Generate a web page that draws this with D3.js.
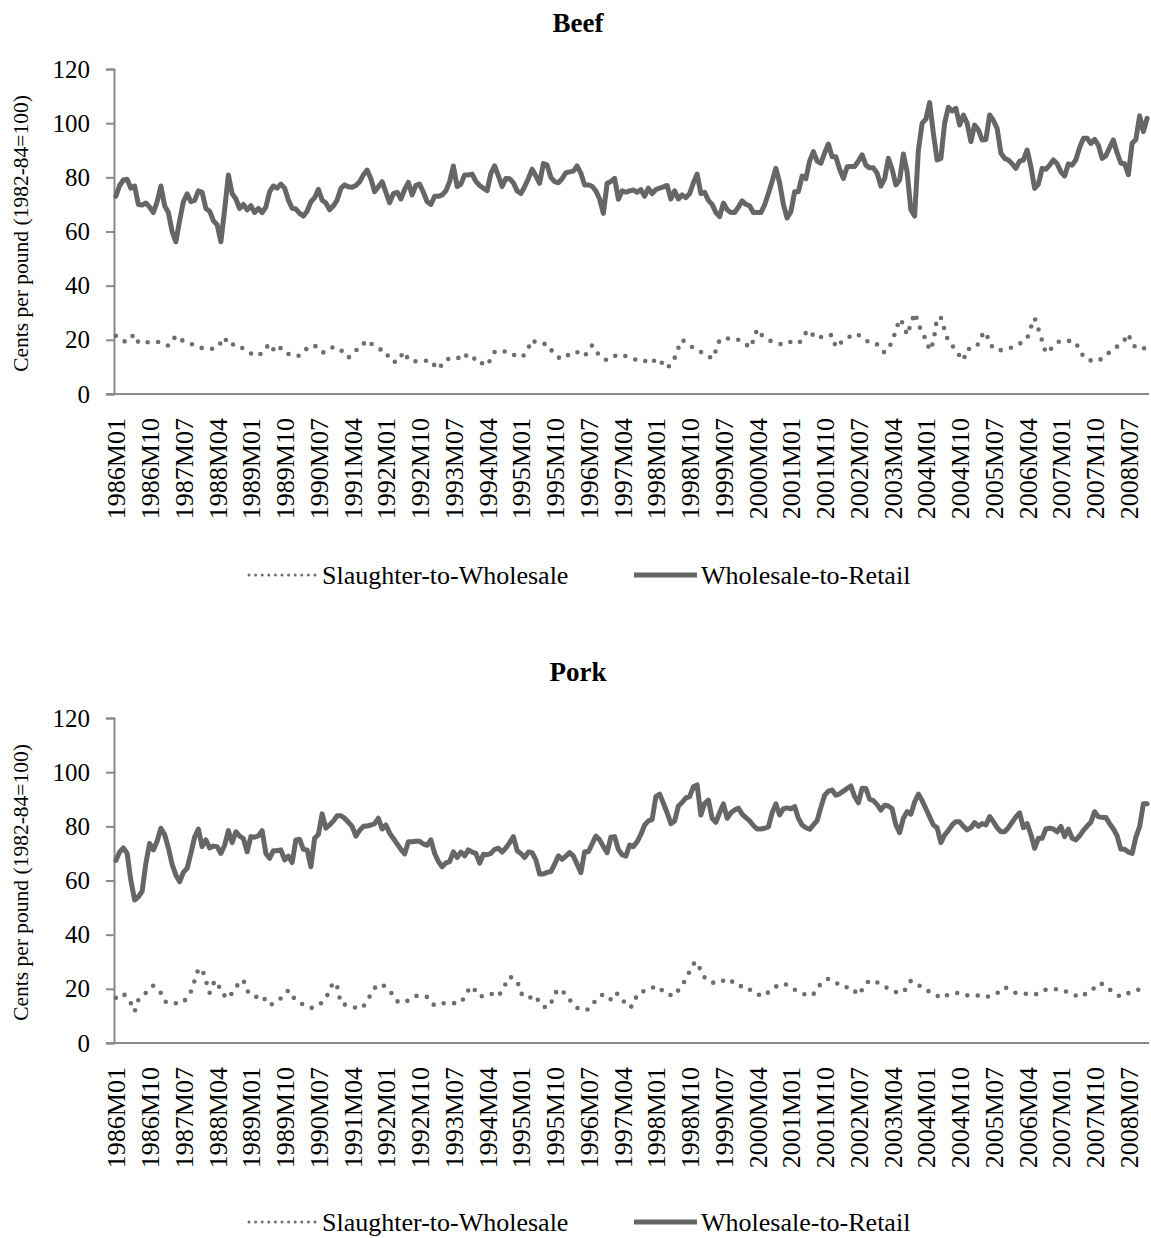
<!DOCTYPE html>
<html>
<head>
<meta charset="utf-8">
<script src="https://cdn.jsdelivr.net/npm/d3@7/dist/d3.min.js"></script>
<style>
  html, body { margin: 0; padding: 0; background: #fff; }
  svg { display: block; }
  text { font-family: "Liberation Serif", "Times New Roman", serif; fill: #000; }
</style>
</head>
<body>
<svg id="chart" width="1151" height="1238"></svg>
<script>
// ---------------- DATA ----------------
const years = d3.range(1986, 2009);
const monthCodes = ["01","02","03","04","05","06","07","08","09","10","11","12"];
const categories = years.flatMap(y => monthCodes.map(m => y + "M" + m));
const tickLabels = categories.filter((c, i) => i % 9 === 0);
const yTicks = [0, 20, 40, 60, 80, 100, 120];
const seriesNames = ["Slaughter-to-Wholesale", "Wholesale-to-Retail"];
const panelTitles = ["Beef", "Pork"];
const yTitle = "Cents per pound (1982-84=100)";

const beefS2W = [
  21.5,20.5,19.5,19.3,21,22,19,18.7,19,19.2,19.2,19.2,
  19.1,18.5,17.8,19.5,21.5,20.5,19.5,19,18.5,18,17.2,17,
  16.7,16.6,16.8,17,19,20.9,18,18.2,18.5,17.5,16.8,16.2,
  15,14,14.5,15,17,18.6,16.5,15.3,17.1,16,14.8,14.1,
  14.1,14.1,15.5,16.9,17.5,18,16.5,15.3,15.5,16.5,17.4,16.8,
  16.3,14.5,13.4,14.8,16.2,16.5,18.5,19.9,18.7,17.6,16.8,16.2,
  15.9,12.5,12,11.8,14,15.6,12.5,12.2,12.1,12.1,12.2,12.3,
  12.4,10.5,9.1,11,12.8,13,13.2,13,14,15,13,12.5,
  13.5,12,11,10.5,13,15.5,16,16,15.5,15.5,14.5,14,
  13.5,14.5,17,20,19,18.5,18.5,18.5,16.5,14.5,13.5,13,
  13.5,15,15.5,15.5,14.5,14,16,18,16,14,13,12.5,
  13,14,14.5,14,14,13.5,13,12.5,12,12,13,12,
  12.5,13,10.5,9.5,11,13.3,17,20,19,18,17,16,
  15.5,15,14,13,16,20,20.5,20.5,20.5,20.5,20,19.5,
  18.5,17,19.7,23.9,22,21,20,19.3,19,18.5,18.2,18.5,
  19.3,19,18.7,20,22.6,23.6,21.5,20.4,21,21.9,21.8,21.7,
  17.2,18.5,19.8,20.5,21.5,22.3,21.8,21,20,18.7,18.5,18.3,
  16.5,15.3,17,19.2,23.5,27.7,25.8,21.8,25.8,29.9,26.3,22.2,
  20.4,16.1,19.1,28.2,28.2,23.6,19.3,18,16,14.1,12.4,16.7,
  16.5,17,18.5,21.7,23,18.6,17,16,16.2,16.5,16.9,17.2,
  17.6,18.5,19.5,20.5,24.6,28,24,19.7,15.1,16.2,17.5,19,
  19.6,19.6,19.6,19.6,19,16,14,12.6,12.4,12.2,12.2,13.2,
  14.1,15.5,16.8,17.5,18.5,20,22.2,18.3,17.3,16.5,16.8,17.2
];
const beefW2R = [
  73,77,79,79.3,76,76.8,70,69.8,70.5,69,67,71,
  76.8,69.5,67,60,56.2,64,71,73.9,71,71.5,75,74.5,
  68.5,67.5,64,62.5,56.2,68,80.9,74,72,68.5,70,68,
  69.5,67,68.5,67,69,74.7,76.8,76,77.5,76,71.6,68.6,
  68.3,66.7,65.7,67.5,71,72.5,75.6,71.6,70.5,68,69.5,71.6,
  75.9,77.2,76.5,76.3,77,78.4,80.9,82.7,79.5,74.7,76.5,78.4,
  74.5,70.6,74,74.5,72,75.5,78.1,73.5,77,77.5,74.5,71,
  70,73,73,73.5,75,78.4,84.2,76.6,77.5,80.9,80.9,81.2,
  78.5,77,76,75.1,81.5,84.2,80.5,76.6,79.6,79.5,78,75,
  74,76.5,79.6,83,80.5,77.8,85.1,84.5,80,78.4,78,79.5,
  81.7,82,82.3,84.2,81.5,77.2,77.2,76.7,75,72,66.7,77.8,
  78.5,79.6,71.9,75,74.5,75,75.3,74.5,75.5,73,76,74,
  75.5,76,76.5,77,72,75,72,73.5,72.5,74,78,81.2,
  74,74.5,71.5,70,67,65.5,70.5,68,67,67,69,71.3,
  70,69.5,67,67,67,69.8,74,78.5,83.3,78,70,65,
  67.3,74.7,74.7,80.5,79.5,86,89.5,86,85.2,89,92.3,87.6,
  87.6,83,79.6,83.9,84,84,86,88.3,84.5,83.5,83.5,81.5,
  76.8,79.5,87,83,77.2,79,88.6,82,68,65.7,90,100,
  101.5,107.6,96.2,86.4,87,100,105.9,104.5,105.5,99.3,103,100,
  93.2,99.3,97.5,93.8,94,103,101,98.1,89,87,86.4,85,
  83.3,86,86.4,90.1,84,75.9,77.5,83.3,83,84.5,86.4,85,
  82,80.5,85,84.5,86.5,91,94.4,94.4,92.5,94,91.9,87,
  88,91,93.8,89,85.2,85,81,92.6,94,102.7,96.9,101.8
];
const porkS2W = [
  16.7,17.5,18.3,16.5,14.7,11.6,15.9,17.5,18.5,20,21.2,20,
  18.5,15.5,14.7,14.7,14.7,14.8,14.9,17,19,23,27.3,27.3,
  23,18.5,22,23,18.8,17.5,16.4,18.5,20.5,22.5,23.3,19.3,
  18,16.9,17.2,17.6,15.5,13.9,14.6,15.4,16.5,17.6,19.5,17.5,
  15.7,15,14.1,13.5,12.9,13.3,14.2,14.9,16.5,19.5,22.5,21,
  14.5,14.2,13.9,13.5,13,12.6,13.5,15.5,18,20.3,21.5,21.7,
  20.5,19.3,17.5,15.4,15.1,14.9,15.8,16.8,17.4,17.4,17.4,17,
  15,13.9,14.2,14.7,14.7,14.7,14.7,14.8,14.9,17,19.5,21,
  19,17.1,17.4,17.9,18.3,17.5,17.2,19.5,22,24.5,23.8,23,
  18.5,16.8,16.6,17,17.5,14.5,13.5,12.9,14.5,18,20,19,
  18.1,16,14.2,13,12.2,12.3,12.4,14,15.9,17,18.1,17,
  16.1,18.5,18,16,14.5,13,14,18,18.8,19.2,19.5,20.3,
  21,20.5,18.8,17.9,17.7,17.4,19.5,21.5,23.5,26.5,29.2,30,
  26.5,24.2,22.8,22.4,22,22.4,23,23.7,23.3,21.5,21,21,
  21,19.8,18.6,18,17.6,17.3,18.8,19.8,20.8,21.8,21.8,21.5,
  20.6,19.7,18.9,18.3,17.8,17.3,18,20.3,21.8,23.2,23.7,23.1,
  22.4,21.2,20.6,20.6,20.6,19.2,17.7,19.7,22,23,23.2,22.4,
  21.6,20.9,20,19.4,18.8,18.3,18.9,20.5,23,22.2,21.4,20.6,
  19.5,19,18.3,17.5,16.6,17.2,17.9,18.3,18.4,18.5,18,17.6,
  17.6,17.7,17.5,17.2,16.9,17.4,17.9,18.4,19.5,20.6,20,19,
  18.5,18.5,18.4,18.1,17.9,18,18.1,18.8,19.7,20,19.9,19.8,
  19.8,19.2,18.6,18.1,17.5,16.9,17.7,18.5,19,20.5,22,21.8,
  21.2,19.8,18.6,17.8,17.1,17.8,18.4,18.8,19.3,19.9,20.6,21.2
];
const porkW2R = [
  67.4,70.5,72,70,60,52.8,54,56,66.4,73.7,71.3,74.5,
  79.3,77,72,66,62,59.5,63,64.5,70,76,79,72.5,
  75,72,72.7,72.5,70,73,78.4,74,78,76.4,75.5,70.6,
  76.2,76,76.5,78.4,70,68.2,71,71,71.3,67.6,69,66.6,
  75,75.2,71.5,71.3,65.1,75.6,77,84.6,79.3,80.5,82,83.9,
  83.9,83,81.5,80,76.4,78.5,80,80.1,80.5,81,83,79,
  80.5,77.5,75.5,73.5,71.5,69.8,74.3,74.3,74.5,74.5,73.5,73,
  75,70,67,65.1,66.5,67,70.6,68.5,70.5,69.1,71.3,70.5,
  70,66.4,69.7,69.5,70,71.5,71.9,70.5,72,74,76.2,71,
  70,68.5,70.5,70.3,67.6,62.4,62.4,63,63.3,66,69.1,67.8,
  69,70.3,69,66,62.9,70.6,70.6,73.5,76.4,75,72.5,70.3,
  76,76.2,71.5,69.5,69,73.1,72.5,74.3,77,80.5,82,82.5,
  91,91.9,88.5,85,81,82,87.5,88.8,90.5,91,94.6,95.3,
  84.2,88.5,89.7,83,81.5,85,88.3,83,85,86,86.7,84.5,
  83.2,82,80.3,79,79,79.3,79.8,85,88.3,84.2,86.5,86.8,
  86.5,87.3,83,80.5,79.5,78.9,80.5,82.1,87,91.5,93,93.4,
  91.5,92,93,94,94.9,91,88.7,94.1,94,90,89.5,88,
  86,87.8,87.5,86.5,80.5,77.7,83,85.4,84.5,89,91.9,89.5,
  86.5,83.5,80.5,79.5,74,76.8,78.5,80.5,81.7,81.7,80,78.7,
  79.5,81.4,80,81,80.5,83.6,81.7,79.5,78,78,79.5,81.5,
  83.5,85,79.5,81,77,71.9,75.6,75.6,79,79.3,79,78,
  80,76.2,79,75.6,75,76.5,78.5,80.1,81.5,85.4,83.5,83.3,
  83.3,81,79,76.5,71.5,71.5,70.5,70,76,79.9,88.3,88.3
];

// ---------------- LAYOUT ----------------
const svg = d3.select("#chart");
svg.append("rect").attr("width", 1151).attr("height", 1238).attr("fill", "#fff");

const plotLeft = 114, plotRight = 1149;
const lineColor = "#666666";
const dotColor = "#6e6e6e";
const axisColor = "#8a8a8a";
const fontFamily = '"Liberation Serif", "Times New Roman", serif';

const panels = [
  { title: panelTitles[0], s2w: beefS2W, w2r: beefW2R, top: 69,  bottom: 394,  titleY: 32,  legendY: 575 },
  { title: panelTitles[1], s2w: porkS2W, w2r: porkW2R, top: 718, bottom: 1043, titleY: 681, legendY: 1222 }
];

const x = d3.scalePoint().domain(categories).range([plotLeft, plotRight]).padding(0.5);

panels.forEach(p => {
  const g = svg.append("g");
  const y = d3.scaleLinear().domain([0, 120]).range([p.bottom, p.top]);

  // title
  g.append("text")
    .attr("x", 578).attr("y", p.titleY)
    .attr("text-anchor", "middle")
    .style("font-size", "27px").style("font-weight", "bold")
    .text(p.title);

  // y axis title
  g.append("text")
    .attr("transform", `translate(28,${(p.top + p.bottom) / 2 + 2}) rotate(-90)`)
    .attr("text-anchor", "middle")
    .style("font-size", "21.5px")
    .text(yTitle);

  // y axis
  const yAxis = d3.axisLeft(y).tickValues(yTicks).tickSize(8).tickPadding(16);
  const ya = g.append("g").attr("transform", `translate(${plotLeft},0)`).call(yAxis);
  ya.select(".domain").attr("stroke", axisColor).attr("stroke-width", 2);
  ya.selectAll(".tick line").attr("stroke", axisColor).attr("stroke-width", 2);
  ya.selectAll(".tick text").style("font-size", "25px").style("font-family", fontFamily).attr("fill", "#000");

  // x axis
  const xAxis = d3.axisBottom(x).tickValues(tickLabels).tickSize(0).tickPadding(0);
  const xa = g.append("g").attr("transform", `translate(0,${p.bottom})`).call(xAxis);
  xa.select(".domain").remove();
  xa.selectAll(".tick text")
    .style("font-size", "26px").style("font-family", fontFamily).attr("fill", "#000")
    .attr("text-anchor", "end")
    .attr("transform", "rotate(-90)")
    .attr("x", -24).attr("y", 0).attr("dy", "0.35em");
  g.append("line")
    .attr("x1", plotLeft - 8).attr("x2", plotRight)
    .attr("y1", p.bottom).attr("y2", p.bottom)
    .attr("stroke", axisColor).attr("stroke-width", 2);

  const line = d3.line().x((d, i) => x(categories[i])).y(d => y(d));

  // Wholesale-to-Retail (solid)
  g.append("path").datum(p.w2r)
    .attr("d", line)
    .attr("fill", "none").attr("stroke", lineColor)
    .attr("stroke-width", 5).attr("stroke-linejoin", "round").attr("stroke-linecap", "round");

  // Slaughter-to-Wholesale (round dots)
  g.append("path").datum(p.s2w)
    .attr("d", line)
    .attr("fill", "none").attr("stroke", dotColor)
    .attr("stroke-width", 4.6).attr("stroke-dasharray", "0 10.5")
    .attr("stroke-linecap", "round");

  // legend
  const ly = p.legendY;
  g.append("line").attr("x1", 249).attr("x2", 316).attr("y1", ly).attr("y2", ly)
    .attr("stroke", dotColor).attr("stroke-width", 3)
    .attr("stroke-dasharray", "0 6.6").attr("stroke-linecap", "round");
  g.append("text").attr("x", 322).attr("y", ly).attr("dy", "0.33em")
    .style("font-size", "26px").text(seriesNames[0]);
  g.append("line").attr("x1", 634).attr("x2", 697).attr("y1", ly).attr("y2", ly)
    .attr("stroke", lineColor).attr("stroke-width", 5);
  g.append("text").attr("x", 701).attr("y", ly).attr("dy", "0.33em")
    .style("font-size", "26px").text(seriesNames[1]);
});
</script>
</body>
</html>
